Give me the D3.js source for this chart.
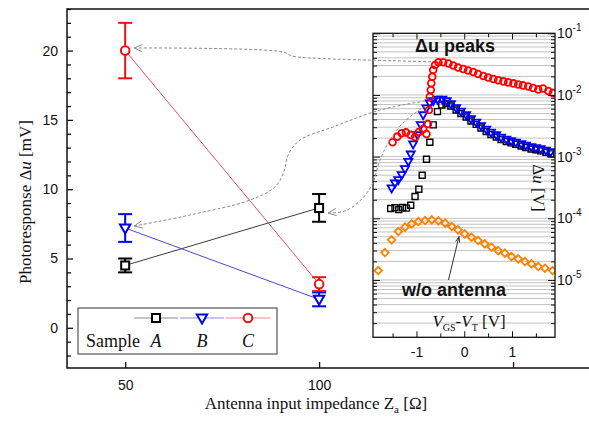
<!DOCTYPE html>
<html>
<head>
<meta charset="utf-8">
<script src="https://cdn.jsdelivr.net/npm/d3@7"></script>
<style>
  body { margin: 0; background: #fff; }
  svg { display: block; }
  .sans { font-family: "Liberation Sans", Arial, sans-serif; }
  .serif { font-family: "Liberation Serif", "Times New Roman", serif; }
</style>
</head>
<body>
<div id="chart"></div>
<script>
// ---- main panel: photoresponse vs antenna impedance ----
const impedance = [50, 100];
const sampleNames = ['A', 'B', 'C'];
const responseA = [4.5, 8.65];
const errorA = [0.5, 1.0];
const responseB = [7.2, 2.05];
const errorB = [1.0, 0.5];
const responseC = [20.0, 3.15];
const errorC = [2.0, 0.5];

const xTicks = [50, 100, 150];
const xTickLabels = ['50', '100', ''];
const yMajorTicks = [0, 5, 10, 15, 20];

// ---- inset: delta u vs gate voltage (log scale) ----
const gateA = [-1.54,-1.45,-1.37,-1.29,-1.21,-1.12,-1.03,-0.95,-0.88,-0.79,-0.72,-0.65,-0.56,-0.47,-0.38,-0.28,-0.17,-0.07,0.04,0.14,0.25,0.35,0.46,0.56,0.67,0.77,0.88,0.98,1.08,1.19,1.29,1.40,1.50,1.60,1.71,1.81];
const peakA = [1.44e-4,1.49e-4,1.39e-4,1.50e-4,1.46e-4,1.63e-4,2.25e-4,2.96e-4,5.0e-4,9.08e-4,1.71e-3,3.27e-3,5.36e-3,6.89e-3,7.28e-3,6.64e-3,5.71e-3,5.01e-3,4.40e-3,3.79e-3,3.33e-3,2.92e-3,2.56e-3,2.29e-3,2.08e-3,1.90e-3,1.76e-3,1.67e-3,1.58e-3,1.49e-3,1.41e-3,1.33e-3,1.29e-3,1.24e-3,1.17e-3,1.11e-3];

const gateB = [-1.52,-1.45,-1.38,-1.31,-1.24,-1.17,-1.12,-1.07,-0.98,-0.91,-0.86,-0.79,-0.72,-0.65,-0.56,-0.46,-0.37,-0.28,-0.17,-0.07,0.04,0.14,0.25,0.35,0.46,0.56,0.67,0.77,0.88,0.98,1.08,1.19,1.29,1.40,1.50,1.60,1.71,1.81];
const peakB = [3.08e-4,3.71e-4,4.19e-4,5.05e-4,6.31e-4,8.30e-4,1.09e-3,1.59e-3,2.25e-3,3.27e-3,4.74e-3,6.09e-3,7.33e-3,8.0e-3,8.45e-3,8.45e-3,8.0e-3,7.15e-3,6.15e-3,5.4e-3,4.74e-3,4.08e-3,3.58e-3,3.15e-3,2.76e-3,2.47e-3,2.25e-3,2.05e-3,1.90e-3,1.80e-3,1.70e-3,1.61e-3,1.52e-3,1.44e-3,1.38e-3,1.33e-3,1.26e-3,1.19e-3];

const gateC = [-1.50,-1.40,-1.31,-1.22,-1.12,-1.03,-0.95,-0.86,-0.79,-0.76,-0.74,-0.72,-0.70,-0.69,-0.67,-0.65,-0.61,-0.54,-0.44,-0.33,-0.23,-0.13,-0.02,0.08,0.19,0.29,0.40,0.50,0.61,0.71,0.82,0.92,1.03,1.13,1.23,1.34,1.44,1.55,1.65,1.76,1.86];
const peakC = [1.71e-3,2.11e-3,2.39e-3,2.47e-3,2.25e-3,2.08e-3,2.51e-3,2.81e-3,2.33e-3,3.39e-3,5.71e-3,9.38e-3,1.20e-2,1.55e-2,1.98e-2,2.54e-2,3.06e-2,3.39e-2,3.39e-2,3.24e-2,3.01e-2,2.79e-2,2.64e-2,2.49e-2,2.36e-2,2.19e-2,2.03e-2,1.92e-2,1.82e-2,1.73e-2,1.66e-2,1.60e-2,1.54e-2,1.48e-2,1.43e-2,1.37e-2,1.30e-2,1.23e-2,1.27e-2,1.16e-2,1.08e-2];

const gateNoAntenna = [-1.80,-1.66,-1.52,-1.38,-1.24,-1.10,-0.96,-0.82,-0.68,-0.54,-0.40,-0.26,-0.13,0.01,0.15,0.29,0.43,0.57,0.71,0.85,0.99,1.13,1.27,1.41,1.55,1.69,1.85];
const peakNoAntenna = [1.42e-5,2.78e-5,4.47e-5,6.09e-5,7.18e-5,8.11e-5,8.85e-5,9.18e-5,9.42e-5,9.08e-5,8.34e-5,7.35e-5,6.49e-5,5.58e-5,4.94e-5,4.35e-5,3.85e-5,3.40e-5,2.99e-5,2.72e-5,2.39e-5,2.20e-5,1.99e-5,1.82e-5,1.65e-5,1.55e-5,1.42e-5];

const insetXTicks = [-1, 0, 1];
const insetXMinor = [-1.5, -0.5, 0.5, 1.5];
const insetDecades = [1e-5, 1e-4, 1e-3, 1e-2, 1e-1];

// dashed connectors: waypoints in main-panel units [ohm, mV], ending on an inset point [V, V]
const linkC = [[52.3, 20.19], [90.7, 19.9], [93.0, 19.61], [96.3, 19.49]];
const linkCEnd = [-0.68, 0.0346];
const linkB = [[52.3, 7.34], [66.7, 8.14], [82.2, 9.22], [88.6, 10.16], [90.9, 11.24], [92.0, 12.47], [95.1, 13.55], [103.6, 14.49], [115.7, 15.71]];
const linkBEnd = [-0.82, 8.0e-3];
const linkA = [[102.3, 8.28], [106.7, 8.43], [110.5, 9.15], [113.6, 10.3], [115.7, 12.11], [118.3, 13.55], [121.6, 14.78]];
const linkAEnd = [-0.82, 6.64e-3];
// w/o antenna pointer: [V, V] from the text to the curve
const noAntennaPointer = [[-0.33, 1.0e-5], [-0.11, 5.05e-5]];

const config = {
  width: 589, height: 422,
  main: {left: 67, right: 610, top: 9, bottom: 368},
  inset: {left: 373, right: 555, top: 33.3, bottom: 337.3}
};

const series = [
  {name: 'A', values: responseA, errors: errorA, marker: 'square', color: '#000000', line: '#3c3c3c', legendLine: '#8a8a8a'},
  {name: 'B', values: responseB, errors: errorB, marker: 'triangle', color: '#0000ee', line: '#4848d8', legendLine: '#8c8ce0'},
  {name: 'C', values: responseC, errors: errorC, marker: 'circle', color: '#ee1111', line: '#dd5060', legendLine: '#ee8a90'}
];

function markerPath(type, s) {
  switch (type) {
    case 'square': return `M${-s},${-s}H${s}V${s}H${-s}Z`;
    case 'triangle': return `M${-s * 1.15},${-s * 0.8}L${s * 1.15},${-s * 0.8}L0,${s * 1.2}Z`;
    case 'diamond': return `M0,${-s * 1.3}L${s * 1.3},0L0,${s * 1.3}L${-s * 1.3},0Z`;
    default: return d3.symbol(d3.symbolCircle, Math.PI * s * s)();
  }
}
const mainSize = type => type === 'circle' ? 4.3 : (type === 'square' ? 4 : 4.5);

const svg = d3.select('#chart').append('svg')
  .attr('width', config.width)
  .attr('height', config.height);

// ---------------- main panel ----------------
const m = config.main;
const x = d3.scaleLinear().domain([35, 175]).range([m.left, m.right]);
const y = d3.scaleLinear().domain([-2.9, 23]).range([m.bottom, m.top]);

const mainG = svg.append('g');

// y axis, ticks pointing inward
const yMinor = d3.range(-2, 24).filter(d => !yMajorTicks.includes(d));
mainG.append('g')
  .attr('transform', `translate(${m.left},0)`)
  .call(d3.axisLeft(y).tickValues(yMinor).tickSize(-4).tickFormat(''))
  .call(g => g.select('.domain').remove());
mainG.append('g')
  .attr('transform', `translate(${m.left},0)`)
  .call(d3.axisLeft(y).tickValues(yMajorTicks).tickSize(-6).tickPadding(9).tickFormat(d => String(d)))
  .call(g => g.select('.domain').remove())
  .call(g => g.selectAll('text').attr('font-size', 14).attr('font-family', '"Liberation Sans", Arial, sans-serif').attr('fill', '#111'));

mainG.append('g')
  .attr('transform', `translate(0,${m.bottom})`)
  .call(d3.axisBottom(x).tickValues(xTicks).tickSize(-6).tickPadding(12).tickFormat((d, i) => xTickLabels[i]))
  .call(g => g.select('.domain').remove())
  .call(g => g.selectAll('text').attr('font-size', 14).attr('font-family', '"Liberation Sans", Arial, sans-serif').attr('fill', '#111'));

mainG.selectAll('.tick line').attr('stroke', '#111').attr('stroke-width', 1.3);

// frame (right edge falls outside the picture)
mainG.append('path')
  .attr('d', `M${m.right},${m.top}H${m.left}V${m.bottom}H${m.right}`)
  .attr('fill', 'none')
  .attr('stroke', '#111')
  .attr('stroke-width', 1.5);

// axis titles
const yTitle = mainG.append('text')
  .attr('class', 'serif')
  .attr('transform', `translate(31,202) rotate(-90)`)
  .attr('text-anchor', 'middle')
  .attr('font-size', 17)
  .attr('fill', '#111');
yTitle.append('tspan').text('Photoresponse Δ');
yTitle.append('tspan').attr('font-style', 'italic').text('u');
yTitle.append('tspan').text(' [mV]');

const xTitle = mainG.append('text')
  .attr('class', 'serif')
  .attr('x', 316).attr('y', 409)
  .attr('text-anchor', 'middle')
  .attr('font-size', 17)
  .attr('fill', '#111');
xTitle.append('tspan').text('Antenna input impedance Z');
xTitle.append('tspan').attr('font-size', 11).attr('dy', 4).text('a');
xTitle.append('tspan').attr('dy', -4).text(' [Ω]');

// connecting lines
const line = d3.line().x((d, i) => x(impedance[i])).y(d => y(d));
series.forEach(s => {
  mainG.append('path')
    .attr('d', line(s.values))
    .attr('fill', 'none')
    .attr('stroke', s.line)
    .attr('stroke-width', 1);
});

// error bars and markers
series.forEach(s => {
  const g = mainG.append('g').attr('stroke', s.color).attr('stroke-width', 2).attr('fill', 'none');
  s.values.forEach((v, i) => {
    const cx = x(impedance[i]);
    const lo = y(v - s.errors[i]);
    const hi = y(v + s.errors[i]);
    g.append('line').attr('x1', cx).attr('x2', cx).attr('y1', lo).attr('y2', hi);
    g.append('line').attr('x1', cx - 7).attr('x2', cx + 7).attr('y1', lo).attr('y2', lo);
    g.append('line').attr('x1', cx - 7).attr('x2', cx + 7).attr('y1', hi).attr('y2', hi);
  });
  g.selectAll('.mark')
    .data(s.values)
    .join('path')
    .attr('class', 'mark')
    .attr('d', markerPath(s.marker, mainSize(s.marker)))
    .attr('transform', (d, i) => `translate(${x(impedance[i])},${y(d)})`)
    .attr('fill', '#fff');
});

// legend
const legend = mainG.append('g');
legend.append('rect')
  .attr('x', 78).attr('y', 308).attr('width', 199).attr('height', 46)
  .attr('fill', '#fff').attr('stroke', '#333').attr('stroke-width', 1);
legend.append('text')
  .attr('class', 'serif')
  .attr('x', 86).attr('y', 347)
  .attr('font-size', 18).attr('fill', '#111')
  .text('Sample');
series.forEach((s, i) => {
  const lx = 156 + i * 46;
  legend.append('line')
    .attr('x1', lx - 22).attr('x2', lx + 22).attr('y1', 318).attr('y2', 318)
    .attr('stroke', s.legendLine).attr('stroke-width', 1);
  legend.append('path')
    .attr('d', markerPath(s.marker, mainSize(s.marker)))
    .attr('transform', `translate(${lx},318)`)
    .attr('fill', '#fff').attr('stroke', s.color).attr('stroke-width', 2);
  legend.append('text')
    .attr('class', 'serif')
    .attr('x', lx).attr('y', 347)
    .attr('text-anchor', 'middle')
    .attr('font-size', 18).attr('font-style', 'italic').attr('fill', '#111')
    .text(sampleNames[i]);
});

// ---------------- inset ----------------
const ins = config.inset;
const ix = d3.scaleLinear().domain([-1.91, 1.90]).range([ins.left, ins.right]);
const iy = d3.scaleLog().domain([Math.pow(10, -5.93), 0.1]).range([ins.bottom, ins.top]);

const insetG = svg.append('g');
insetG.append('rect')
  .attr('x', ins.left).attr('y', ins.top)
  .attr('width', ins.right - ins.left).attr('height', ins.bottom - ins.top)
  .attr('fill', '#fff');

const logTicks = iy.ticks();
const isDecade = d => Math.abs(Math.log10(d) - Math.round(Math.log10(d))) < 1e-6;
const minorLog = logTicks.filter(d => !isDecade(d));
const majorLog = logTicks.filter(isDecade);

// grid lines
insetG.append('g')
  .selectAll('line')
  .data(logTicks.filter(d => d < 0.1))
  .join('line')
  .attr('x1', ins.left).attr('x2', ins.right)
  .attr('y1', d => iy(d)).attr('y2', d => iy(d))
  .attr('stroke', '#b4b4b4').attr('stroke-width', 0.8);

insetG.append('defs').append('clipPath').attr('id', 'inset-clip')
  .append('rect')
  .attr('x', ins.left).attr('y', ins.top)
  .attr('width', ins.right - ins.left).attr('height', ins.bottom - ins.top);

const plotG = insetG.append('g').attr('clip-path', 'url(#inset-clip)');

const insetSeries = [
  {gate: gateNoAntenna, peaks: peakNoAntenna, marker: 'diamond', size: 2.9, color: '#ff8000', width: 1.8},
  {gate: gateA, peaks: peakA, marker: 'square', size: 3, color: '#000000', width: 1.4},
  {gate: gateB, peaks: peakB, marker: 'triangle', size: 3.5, color: '#0000ff', width: 1.8},
  {gate: gateC, peaks: peakC, marker: 'circle', size: 3.4, color: '#ff0000', width: 1.8}
];
insetSeries.forEach(s => {
  plotG.append('g')
    .selectAll('path')
    .data(s.peaks)
    .join('path')
    .attr('d', markerPath(s.marker, s.size))
    .attr('transform', (d, i) => `translate(${ix(s.gate[i])},${iy(d)})`)
    .attr('fill', 'none')
    .attr('stroke', s.color)
    .attr('stroke-width', s.width);
});

// inset axes
const styleTicks = g => g.call(a => a.select('.domain').remove())
  .call(a => a.selectAll('.tick line').attr('stroke', '#111'));
insetG.append('g').attr('transform', `translate(${ins.left},0)`)
  .call(d3.axisLeft(iy).tickValues(minorLog).tickSize(-4).tickFormat('')).call(styleTicks);
insetG.append('g').attr('transform', `translate(${ins.left},0)`)
  .call(d3.axisLeft(iy).tickValues(majorLog).tickSize(-7).tickFormat('')).call(styleTicks);
insetG.append('g').attr('transform', `translate(${ins.right},0)`)
  .call(d3.axisRight(iy).tickValues(minorLog).tickSize(-4).tickFormat('')).call(styleTicks);
insetG.append('g').attr('transform', `translate(${ins.right},0)`)
  .call(d3.axisRight(iy).tickValues(majorLog).tickSize(-7).tickFormat('')).call(styleTicks);

insetG.append('g').attr('transform', `translate(0,${ins.bottom})`)
  .call(d3.axisBottom(ix).tickValues(insetXTicks).tickSize(-6).tickPadding(10).tickFormat(d => String(d)))
  .call(styleTicks)
  .call(g => g.selectAll('text').attr('font-size', 14).attr('font-family', '"Liberation Sans", Arial, sans-serif').attr('fill', '#111'));
insetG.append('g').attr('transform', `translate(0,${ins.bottom})`)
  .call(d3.axisBottom(ix).tickValues(insetXMinor).tickSize(-4).tickFormat('')).call(styleTicks);
insetG.append('g').attr('transform', `translate(0,${ins.top})`)
  .call(d3.axisTop(ix).tickValues(insetXTicks).tickSize(-6).tickFormat('')).call(styleTicks);
insetG.append('g').attr('transform', `translate(0,${ins.top})`)
  .call(d3.axisTop(ix).tickValues(insetXMinor).tickSize(-4).tickFormat('')).call(styleTicks);

insetG.append('rect')
  .attr('x', ins.left).attr('y', ins.top)
  .attr('width', ins.right - ins.left).attr('height', ins.bottom - ins.top)
  .attr('fill', 'none').attr('stroke', '#111').attr('stroke-width', 1.3);

// right-hand decade labels 10^-n
insetDecades.forEach(d => {
  const t = insetG.append('text')
    .attr('class', 'sans')
    .attr('x', ins.right + 2).attr('y', iy(d) + 5)
    .attr('font-size', 14).attr('fill', '#111');
  t.append('tspan').text('10');
  t.append('tspan').attr('font-size', 10).attr('dy', -7).text(String(Math.round(Math.log10(d))));
});

// inset texts
insetG.append('text')
  .attr('class', 'sans')
  .attr('x', 415).attr('y', 52)
  .attr('font-size', 18).attr('font-weight', 'bold').attr('fill', '#111')
  .text('Δu peaks');

insetG.append('text')
  .attr('class', 'sans')
  .attr('x', 402).attr('y', 296)
  .attr('font-size', 18).attr('font-weight', 'bold').attr('fill', '#111')
  .text('w/o antenna');

const vLabel = insetG.append('text')
  .attr('class', 'serif')
  .attr('x', 469).attr('y', 327)
  .attr('text-anchor', 'middle')
  .attr('font-size', 17).attr('fill', '#111');
vLabel.append('tspan').attr('font-style', 'italic').text('V');
vLabel.append('tspan').attr('font-size', 10).attr('dy', 4).text('GS');
vLabel.append('tspan').attr('dy', -4).text('-');
vLabel.append('tspan').attr('font-style', 'italic').text('V');
vLabel.append('tspan').attr('font-size', 10).attr('dy', 4).text('T');
vLabel.append('tspan').attr('dy', -4).text(' [V]');

const duLabel = insetG.append('text')
  .attr('class', 'serif')
  .attr('transform', `translate(533,188) rotate(90)`)
  .attr('text-anchor', 'middle')
  .attr('font-size', 17).attr('fill', '#111');
duLabel.append('tspan').text('Δ');
duLabel.append('tspan').attr('font-style', 'italic').text('u');
duLabel.append('tspan').text(' [V]');

// pointer from "w/o antenna" to the curve
const pStart = [ix(noAntennaPointer[0][0]), iy(noAntennaPointer[0][1])];
const pTip = [ix(noAntennaPointer[1][0]), iy(noAntennaPointer[1][1])];
function chevron(tip, from, len, spread) {
  const a = Math.atan2(from[1] - tip[1], from[0] - tip[0]);
  const p1 = [tip[0] + len * Math.cos(a + spread), tip[1] + len * Math.sin(a + spread)];
  const p2 = [tip[0] + len * Math.cos(a - spread), tip[1] + len * Math.sin(a - spread)];
  return `M${p1[0]},${p1[1]}L${tip[0]},${tip[1]}L${p2[0]},${p2[1]}`;
}
insetG.append('path')
  .attr('d', `M${pStart[0]},${pStart[1]}L${pTip[0]},${pTip[1]}`)
  .attr('stroke', '#333').attr('stroke-width', 1).attr('fill', 'none');
insetG.append('path')
  .attr('d', chevron(pTip, pStart, 6, 0.35))
  .attr('stroke', '#333').attr('stroke-width', 1).attr('fill', 'none');

// ---------------- dashed connectors ----------------
const linkG = svg.append('g');
const curve = d3.line().curve(d3.curveCatmullRom.alpha(0.5));
[[linkC, linkCEnd], [linkB, linkBEnd], [linkA, linkAEnd]].forEach(([pts, end]) => {
  const px = pts.map(p => [x(p[0]), y(p[1])]).concat([[ix(end[0]), iy(end[1])]]);
  linkG.append('path')
    .attr('d', curve(px))
    .attr('fill', 'none').attr('stroke', '#8a8a8a').attr('stroke-width', 1)
    .attr('stroke-dasharray', '3,2');
  linkG.append('path')
    .attr('d', chevron(px[0], px[1], 9, 0.42))
    .attr('fill', 'none').attr('stroke', '#8a8a8a').attr('stroke-width', 1);
});
</script>
</body>
</html>
